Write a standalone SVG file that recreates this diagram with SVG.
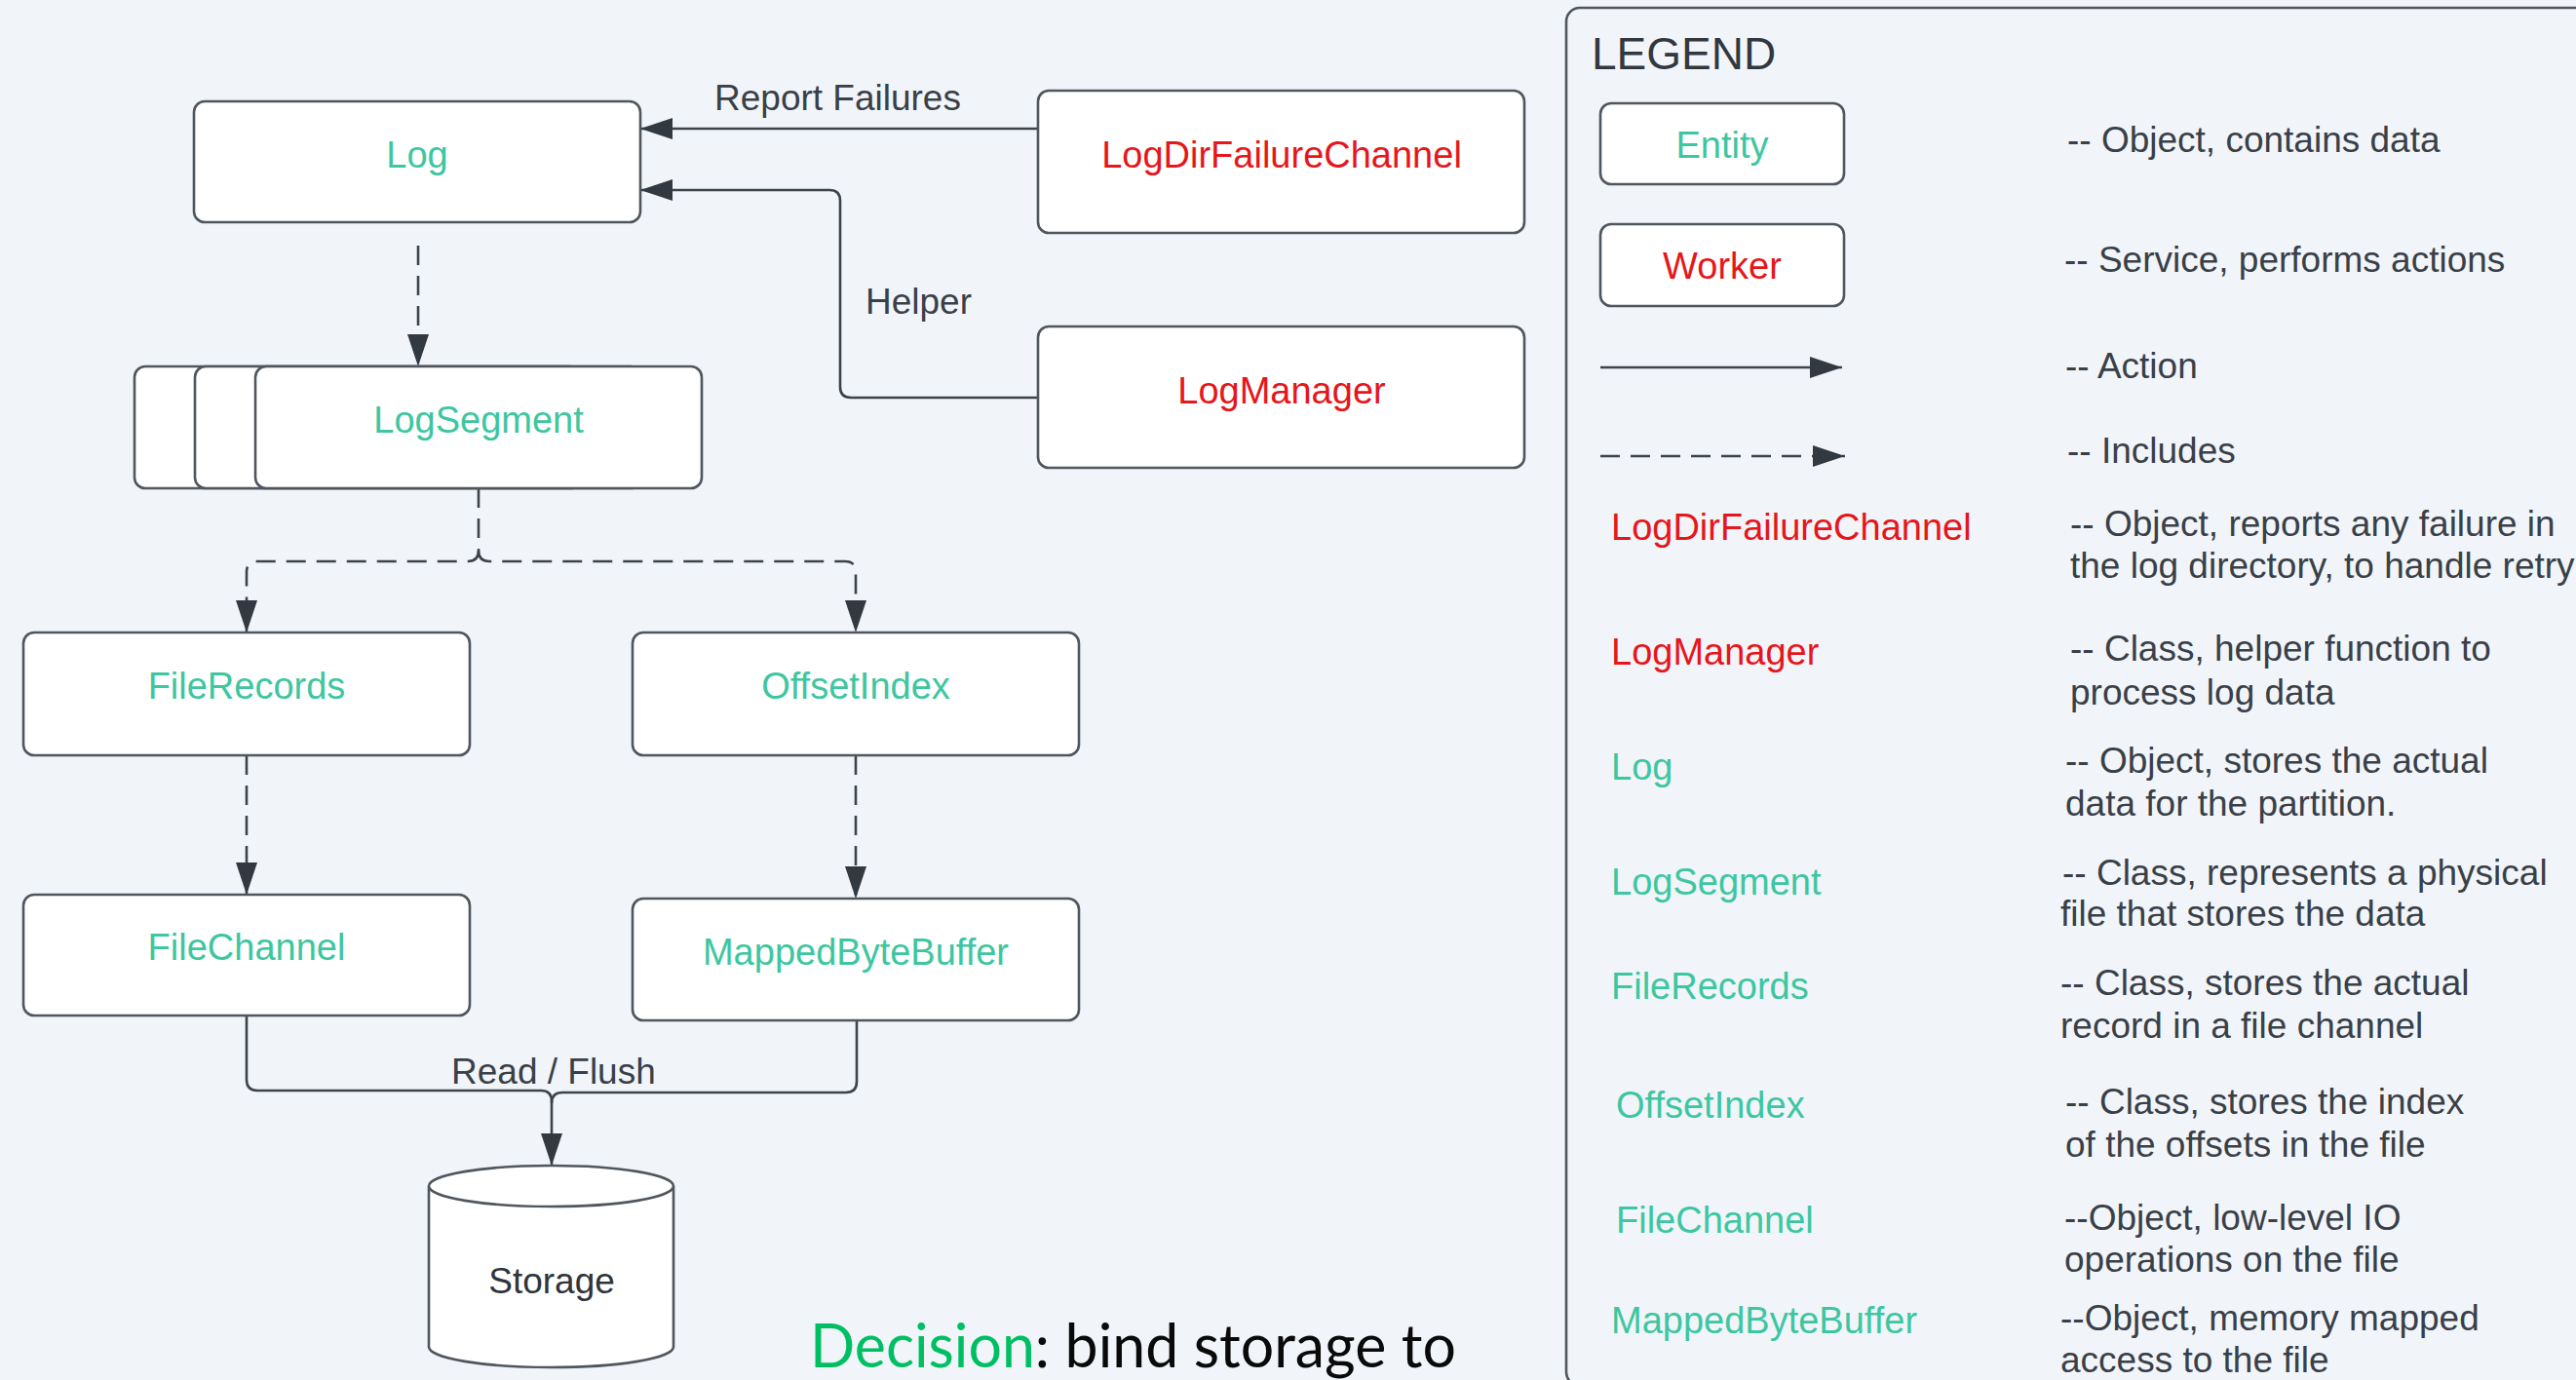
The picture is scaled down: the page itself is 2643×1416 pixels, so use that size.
<svg xmlns="http://www.w3.org/2000/svg" width="2643" height="1416" viewBox="0 0 2643 1416">
  <defs>
    <style>
      .bg { fill: #f1f5fa; }
      .box { fill: #ffffff; stroke: #50565d; stroke-width: 2.6; }
      .label { font-family: "Liberation Sans", Arial, sans-serif; font-size: 38px; }
      .entity { fill: #3ec6a0; }
      .worker { fill: #e6161b; }
      .txt { font-family: "Liberation Sans", Arial, sans-serif; font-size: 37px; fill: #3a4047; }
      .mid { text-anchor: middle; }
      .edge { fill: none; stroke: #3d434a; stroke-width: 2.6; }
      .dashed { stroke-dasharray: 20 11; }
    </style>
    <marker id="arrow" markerUnits="userSpaceOnUse" markerWidth="34" markerHeight="24" viewBox="0 0 34 24" refX="33" refY="12" orient="auto">
      <path d="M0,1 L33,12 L0,23 Z" fill="#333941"/>
    </marker>
  </defs>

  <rect class="bg" x="0" y="0" width="2643" height="1416"/>

  <!-- connectors -->
  <g id="connectors">
    <!-- LogDirFailureChannel -> Log -->
    <path class="edge" d="M1065,132 H657" marker-end="url(#arrow)"/>
    <!-- LogManager -> Log -->
    <path class="edge" d="M1065,408 H873 Q862,408 862,397 V206 Q862,195 851,195 H657" marker-end="url(#arrow)"/>
    <!-- Log includes LogSegment -->
    <path class="edge dashed" d="M429,252 V376" marker-end="url(#arrow)"/>
    <!-- LogSegment includes FileRecords / OffsetIndex -->
    <path class="edge dashed" d="M491,501 V565 Q491,576 480,576 H264 Q253,576 253,587 V649" marker-end="url(#arrow)"/>
    <path class="edge dashed" d="M491,565 Q491,576 502,576 H867 Q878,576 878,587 V649" marker-end="url(#arrow)"/>
    <!-- FileRecords includes FileChannel -->
    <path class="edge dashed" d="M253,775 V918" marker-end="url(#arrow)"/>
    <!-- OffsetIndex includes MappedByteBuffer -->
    <path class="edge dashed" d="M878,775 V922" marker-end="url(#arrow)"/>
    <!-- Read / Flush to Storage -->
    <path class="edge" d="M253,1042 V1108 Q253,1119 264,1119 H555 Q566,1119 566,1130 V1196" marker-end="url(#arrow)"/>
    <path class="edge" d="M879,1047 V1110 Q879,1121 868,1121 H577 Q566,1121 566,1132"/>
    <text class="txt" x="733" y="113">Report Failures</text>
    <text class="txt" x="888" y="322">Helper</text>
    <text class="txt" x="463" y="1112">Read / Flush</text>
  </g>

  <!-- nodes -->
  <g id="node-log">
    <rect class="box" x="199" y="104" width="458" height="124" rx="11"/>
    <text class="label entity mid" x="428" y="172">Log</text>
  </g>
  <g id="node-logdirfailurechannel">
    <rect class="box" x="1065" y="93" width="499" height="146" rx="11"/>
    <text class="label worker mid" x="1315" y="172">LogDirFailureChannel</text>
  </g>
  <g id="node-logmanager">
    <rect class="box" x="1065" y="335" width="499" height="145" rx="11"/>
    <text class="label worker mid" x="1315" y="414">LogManager</text>
  </g>
  <g id="node-logsegment">
    <rect class="box" x="138" y="376" width="458" height="125" rx="11"/>
    <rect class="box" x="200" y="376" width="458" height="125" rx="11"/>
    <rect class="box" x="262" y="376" width="458" height="125" rx="11"/>
    <text class="label entity mid" x="491" y="444">LogSegment</text>
  </g>
  <g id="node-filerecords">
    <rect class="box" x="24" y="649" width="458" height="126" rx="11"/>
    <text class="label entity mid" x="253" y="717">FileRecords</text>
  </g>
  <g id="node-offsetindex">
    <rect class="box" x="649" y="649" width="458" height="126" rx="11"/>
    <text class="label entity mid" x="878" y="717">OffsetIndex</text>
  </g>
  <g id="node-filechannel">
    <rect class="box" x="24" y="918" width="458" height="124" rx="11"/>
    <text class="label entity mid" x="253" y="985">FileChannel</text>
  </g>
  <g id="node-mappedbytebuffer">
    <rect class="box" x="649" y="922" width="458" height="125" rx="11"/>
    <text class="label entity mid" x="878" y="990">MappedByteBuffer</text>
  </g>
  <g id="node-storage">
    <path class="box" d="M440,1217 V1382 A125.5,21 0 0 0 691,1382 V1217"/>
    <ellipse class="box" cx="565.5" cy="1217" rx="125.5" ry="21"/>
    <text class="txt mid" x="566" y="1327" style="fill:#2f353b">Storage</text>
  </g>

  <!-- decision note -->
  <text x="831" y="1403" font-family="Lato, 'Noto Sans', sans-serif" font-size="61" textLength="663" lengthAdjust="spacingAndGlyphs"><tspan fill="#00bf63">Decision</tspan><tspan fill="#0a0a0a">: bind storage to</tspan></text>

  <!-- legend -->
  <g id="legend">
    <rect x="1607" y="8" width="1100" height="1414" rx="14" fill="none" stroke="#50565d" stroke-width="2.6"/>
    <text x="1633" y="71" font-family="'Liberation Sans', Arial, sans-serif" font-size="46" fill="#32383f">LEGEND</text>

    <g id="legend-entity">
      <rect class="box" x="1642" y="106" width="250" height="83" rx="11"/>
      <text class="label entity mid" x="1767" y="162">Entity</text>
    </g>
    <text class="txt" x="2121" y="156">-- Object, contains data</text>

    <g id="legend-worker">
      <rect class="box" x="1642" y="230" width="250" height="84" rx="11"/>
      <text class="label worker mid" x="1767" y="286">Worker</text>
    </g>
    <text class="txt" x="2118" y="279">-- Service, performs actions</text>

    <path class="edge" d="M1642,377 H1890" marker-end="url(#arrow)"/>
    <text class="txt" x="2119" y="388">-- Action</text>

    <path class="edge dashed" d="M1642,468 H1893" marker-end="url(#arrow)"/>
    <text class="txt" x="2121" y="475">-- Includes</text>

    <text class="label worker" x="1653" y="554">LogDirFailureChannel</text>
    <text class="txt" x="2124" y="550">-- Object, reports any failure in</text>
    <text class="txt" x="2124" y="593">the log directory, to handle retry</text>

    <text class="label worker" x="1653" y="682">LogManager</text>
    <text class="txt" x="2124" y="678">-- Class, helper function to</text>
    <text class="txt" x="2124" y="723">process log data</text>

    <text class="label entity" x="1653" y="800">Log</text>
    <text class="txt" x="2119" y="793">-- Object, stores the actual</text>
    <text class="txt" x="2119" y="837">data for the partition.</text>

    <text class="label entity" x="1653" y="918">LogSegment</text>
    <text class="txt" x="2116" y="908">-- Class, represents a physical</text>
    <text class="txt" x="2114" y="950">file that stores the data</text>

    <text class="label entity" x="1653" y="1025">FileRecords</text>
    <text class="txt" x="2114" y="1021">-- Class, stores the actual</text>
    <text class="txt" x="2114" y="1065">record in a file channel</text>

    <text class="label entity" x="1658" y="1147">OffsetIndex</text>
    <text class="txt" x="2119" y="1143">-- Class, stores the index</text>
    <text class="txt" x="2119" y="1187">of the offsets in the file</text>

    <text class="label entity" x="1658" y="1265">FileChannel</text>
    <text class="txt" x="2118" y="1262">--Object, low-level IO</text>
    <text class="txt" x="2118" y="1305">operations on the file</text>

    <text class="label entity" x="1653" y="1368">MappedByteBuffer</text>
    <text class="txt" x="2114" y="1365">--Object, memory mapped</text>
    <text class="txt" x="2114" y="1408">access to the file</text>
  </g>
</svg>
